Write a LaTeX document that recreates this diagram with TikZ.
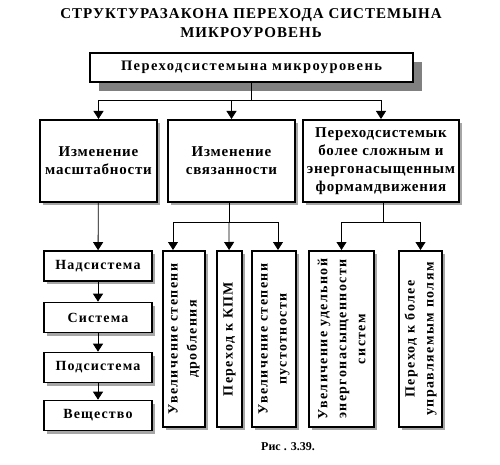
\documentclass[tikz,border=0pt]{standalone}
\usepackage{fontspec}
\setmainfont{Liberation Serif}
\usetikzlibrary{arrows.meta,shadows}

\begin{document}
\begin{tikzpicture}[x=1pt,y=-1pt,font=\bfseries]
				\tikzstyle{box}=[draw=black,line width=2pt,fill=white,align=center,inner sep=1pt,font=\bfseries\fontsize{15}{18}\selectfont\addfontfeature{LetterSpace=5}]
				\tikzstyle{bigshadow}=[drop shadow={shadow xshift=9pt,shadow yshift=-9pt,fill=black!50,opacity=1}]
				\tikzstyle{shadow}=[drop shadow={shadow xshift=3pt,shadow yshift=-3pt,fill=black!35,opacity=1}]
				\tikzstyle{small}=[box,line width=1.6pt,minimum width=108pt,minimum height=30pt,font=\bfseries\fontsize{14}{16}\selectfont\addfontfeature{LetterSpace=8}]
				\tikzstyle{tall}=[box,rotate=90,minimum width=176pt,font=\bfseries\fontsize{14}{19}\selectfont\addfontfeature{LetterSpace=10}]
				\tikzstyle{arr}=[-{Triangle[width=10pt,length=8pt]},line width=0.8pt]
				\useasboundingbox (0,0) rectangle (500,465);
				\node[font=\bfseries\fontsize{15}{19}\selectfont\addfontfeature{LetterSpace=7},align=center](title) at (251,23){СТРУКТУРАЗАКОНА ПЕРЕХОДА СИСТЕМЫНА\\МИКРОУРОВЕНЬ};
				\node[box,bigshadow,minimum width=323pt,minimum height=29pt,font=\bfseries\fontsize{14.5}{16}\selectfont\addfontfeature{LetterSpace=10}](top) at (251.5,67.5){Переходсистемына микроуровень};
				\node[box,shadow,minimum width=117pt,minimum height=82pt](scale) at (98.5,161){Изменение\\масштабности};
				\node[box,shadow,minimum width=127pt,minimum height=82pt](link) at (231.5,161){Изменение\\связанности};
				\node[box,shadow,minimum width=156pt,minimum height=82pt](form) at (381,161){Переходсистемык\\более сложным и\\энергонасыщенным\\формамдвижения};
				\node[small,shadow](supsys) at (98,266){Надсистема};
				\node[small,shadow](sys) at (98,317.5){Система};
				\node[small,shadow](subsys) at (98,367.5){Подсистема};
				\node[small,shadow](matter) at (98,415.5){Вещество};
				\node[tall,shadow,minimum height=42pt](split) at (184,339){Увеличение степени\\дробления};
				\node[tall,shadow,minimum height=25pt](kpm) at (229.5,339){Переход к КПМ};
				\node[tall,shadow,minimum height=44pt](void) at (274,339){Увеличение степени\\пустотности};
				\node[tall,shadow,minimum height=65pt](energy) at (341.5,339){Увеличение удельной\\энергонасыщенности\\систем};
				\node[tall,shadow,minimum height=43pt](field) at (420.5,339){Переход к более\\управляемым полям};
				\node[font=\bfseries\fontsize{12}{14}\selectfont](caption) at (288,447){Рис . 3.39.};
				\coordinate (bus1) at (251.5,100);
				\coordinate (bus2) at (229,222);
				\coordinate (bus3) at (383,222);
				\draw[line width=0.8pt] (top) -- (bus1);
				\draw[arr] (bus1) -| (scale);
				\draw[arr] (bus1) -| (link);
				\draw[arr] (bus1) -| (form);
				\path[arr]
					(scale) edge (supsys)
					(supsys) edge (sys)
					(sys) edge (subsys)
					(subsys) edge (matter);
				\draw[line width=0.8pt] (link.south -| bus2) -- (bus2);
				\draw[arr] (bus2) -| ([xshift=-11pt]split.east);
				\draw[arr] (bus2) -- (kpm);
				\draw[arr] (bus2) -| ([xshift=4pt]void.east);
				\draw[line width=0.8pt] (form.south -| bus3) -- (bus3);
				\draw[arr] (bus3) -| (energy);
				\draw[arr] (bus3) -| (field);
			\end{tikzpicture}
\end{document}
